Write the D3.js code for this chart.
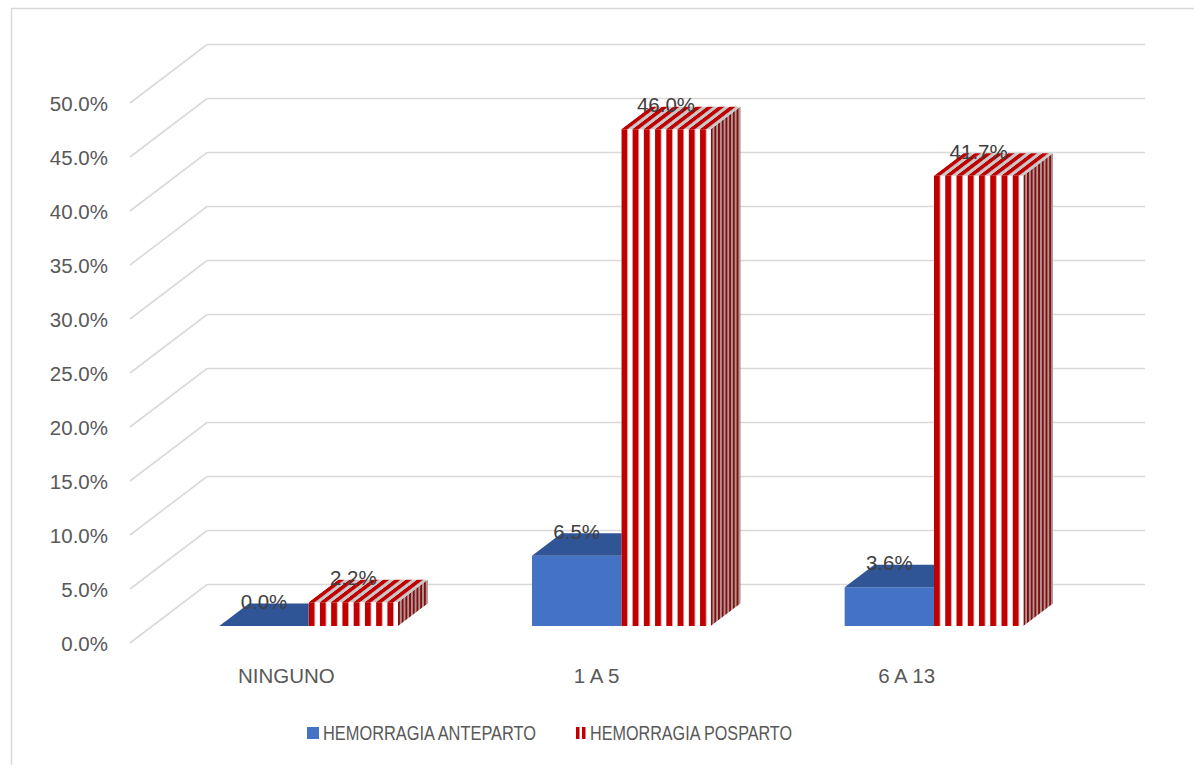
<!DOCTYPE html>
<html>
<head>
<meta charset="utf-8">
<script src="https://cdn.jsdelivr.net/npm/d3@7"></script>
<style>
  html, body { margin: 0; padding: 0; background: #ffffff; }
  svg { display: block; }
  text { font-family: "Liberation Sans", Arial, sans-serif; fill: #595959; }
</style>
</head>
<body>
<svg id="chart" width="1194" height="765"></svg>
<script>
// Data
const categories = ["NINGUNO", "1 A 5", "6 A 13"];
const seriesNames = ["HEMORRAGIA ANTEPARTO", "HEMORRAGIA POSPARTO"];
const anteparto = [0.0, 6.5, 3.6];
const posparto = [2.2, 46.0, 41.7];
const yTicks = [0, 5, 10, 15, 20, 25, 30, 35, 40, 45, 50];

const svg = d3.select("#chart");
const W = 1194, H = 765;

// Chart frame
svg.append("rect")
  .attr("x", 11.5).attr("y", 8.5)
  .attr("width", W + 20).attr("height", H + 20)
  .attr("fill", "#ffffff").attr("stroke", "#d9d9d9").attr("stroke-width", 1.5);

// Oblique 3D projection: front-left of the plot floor, full depth offset
const frontLeft = 130, frontRight = 1068, baseFront = 643;
const depthDX = 77, depthDY = 58.5;
const h = d3.scaleLinear().domain([0, 50]).range([0, 540]);
const proj = (x, v, z) => [x + z * depthDX, baseFront - h(v) - z * depthDY];

// Bars sit between these depth fractions
const z0 = 0.29, z1 = 0.675;

const x0 = d3.scaleBand().domain(categories)
  .range([frontLeft, frontRight]).paddingInner(1.5 / 3.5).paddingOuter(0.75 / 3.5);
const x1 = d3.scaleBand().domain(seriesNames).range([0, x0.bandwidth()]);
const seriesValues = [anteparto, posparto];

// Gridlines: back wall + left side wall
const grid = svg.append("g").attr("stroke", "#d9d9d9").attr("stroke-width", 1.6).attr("fill", "none");
yTicks.forEach(v => {
  const a = proj(frontLeft, v, 0), b = proj(frontLeft, v, 1), c = proj(frontRight, v, 1);
  grid.append("path").attr("d", `M${a[0]},${a[1]}L${b[0]},${b[1]}L${c[0]},${c[1]}`);
});

// Tick labels
svg.append("g").selectAll("text").data(yTicks).join("text")
  .attr("x", 108).attr("y", v => proj(frontLeft, v, 0)[1] + 8)
  .attr("text-anchor", "end").attr("font-size", 20.5)
  .text(v => d3.format(".1f")(v) + "%");

// Category labels
svg.append("g").selectAll("text").data(categories).join("text")
  .attr("x", (c, i) => x0(c) + x0.bandwidth() / 2 - i * 2.5)
  .attr("y", 683)
  .attr("text-anchor", "middle").attr("font-size", 20.5)
  .text(c => c);

// Patterns for striped series
const defs = svg.append("defs");
const period = 11.25, stripe = 6;
const skewDeg = -Math.atan(depthDX / depthDY) * 180 / Math.PI;

function stripePattern(id, x, w, c1, c2, s, transform) {
  const p = defs.append("pattern").attr("id", id)
    .attr("patternUnits", "userSpaceOnUse")
    .attr("width", w).attr("height", 10);
  if (transform) p.attr("patternTransform", transform);
  else p.attr("x", x).attr("y", 0);
  p.append("rect").attr("width", w).attr("height", 10).attr("fill", c2);
  p.append("rect").attr("width", s).attr("height", 10).attr("fill", c1);
}

// Bars
const bars = svg.append("g");
const poly = pts => "M" + pts.map(p => p.join(",")).join("L") + "Z";
categories.forEach((cat, i) => {
  seriesNames.forEach((s, j) => {
    const v = seriesValues[j][i];
    const xl = x0(cat) + x1(s), xr = xl + x1.bandwidth();
    const fl0 = proj(xl, 0, z0), fr0 = proj(xr, 0, z0);
    const flt = proj(xl, v, z0), frt = proj(xr, v, z0);
    const blt = proj(xl, v, z1), brt = proj(xr, v, z1), br0 = proj(xr, 0, z1);

    let frontFill, topFill, sideFill;
    if (j === 0) {
      frontFill = "#4472C4"; topFill = "#2F5597"; sideFill = "#2E5390";
    } else {
      const id = `s${i}`;
      stripePattern(id + "f", flt[0], period, "#C00000", "#ffffff", stripe);
      stripePattern(id + "t", 0, period, "#C00000", "#c8c8c8", stripe,
        `translate(${flt[0]},${flt[1]}) skewX(${skewDeg})`);
      stripePattern(id + "s", frt[0], 3.7, "#8B0B0B", "#ab9c9c", 1.9);
      frontFill = `url(#${id}f)`; topFill = `url(#${id}t)`; sideFill = `url(#${id}s)`;
    }
    bars.append("path").attr("d", poly([fr0, frt, brt, br0])).attr("fill", sideFill);
    if (v > 0) bars.append("path").attr("d", poly([fl0, fr0, frt, flt])).attr("fill", frontFill);
    bars.append("path").attr("d", poly([flt, frt, brt, blt])).attr("fill", topFill);
  });
});

// Data labels
const labels = svg.append("g");
categories.forEach((cat, i) => {
  seriesNames.forEach((s, j) => {
    const v = seriesValues[j][i];
    const xc = x0(cat) + x1(s) + x1.bandwidth() / 2;
    const t = proj(xc, v, z0);
    labels.append("text")
      .attr("x", t[0]).attr("y", t[1] - 17)
      .attr("text-anchor", "middle").attr("font-size", 20.5)
      .style("fill", "#404040")
      .text(d3.format(".1f")(v) + "%");
  });
});

// Legend
const legend = svg.append("g");
legend.append("rect").attr("x", 307).attr("y", 727).attr("width", 12).attr("height", 12).attr("fill", "#4472C4");
legend.append("text").attr("x", 323).attr("y", 740).attr("font-size", 20)
  .attr("textLength", 213).attr("lengthAdjust", "spacingAndGlyphs")
  .text(seriesNames[0]);
legend.append("rect").attr("x", 576).attr("y", 727).attr("width", 3.5).attr("height", 12).attr("fill", "#C00000");
legend.append("rect").attr("x", 582).attr("y", 727).attr("width", 3.5).attr("height", 12).attr("fill", "#C00000");
legend.append("text").attr("x", 590).attr("y", 740).attr("font-size", 20)
  .attr("textLength", 202).attr("lengthAdjust", "spacingAndGlyphs")
  .text(seriesNames[1]);
</script>
</body>
</html>
